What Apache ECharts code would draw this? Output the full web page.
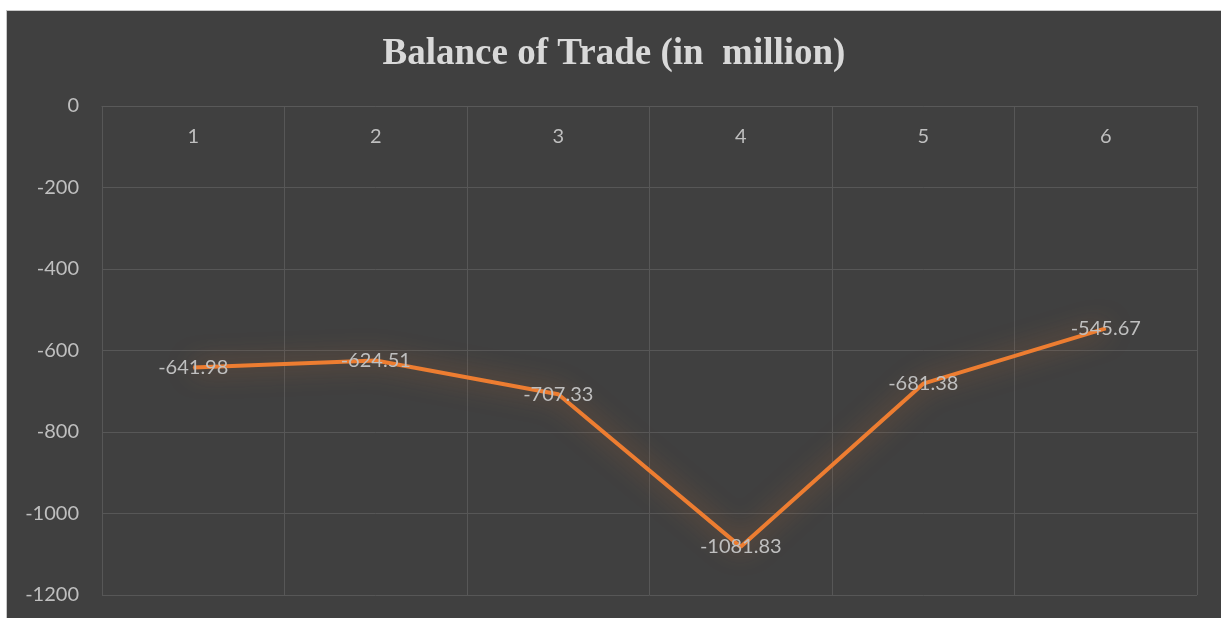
<!DOCTYPE html>
<html>
<head>
<meta charset="utf-8">
<script src="https://cdn.jsdelivr.net/npm/echarts@6/dist/echarts.min.js"></script>
<style>
html,body{margin:0;padding:0;background:#ffffff;width:1221px;height:618px;overflow:hidden;}
#frame{position:absolute;left:6px;top:10px;width:1215px;height:608px;background:#404040;border-top:1px solid #c8c8c8;border-left:1px solid #c8c8c8;box-sizing:border-box;}
#chart{position:absolute;left:0;top:0;width:1214px;height:607px;}
</style>
</head>
<body>
<div id="frame"><div id="chart"></div></div>
<script>
const title = 'Balance of Trade (in  million)';
const categories = ['1', '2', '3', '4', '5', '6'];
const balance = [-641.98, -624.51, -707.33, -1081.83, -681.38, -545.67];
const yMin = -1200, yMax = 0, yStep = 200;

const labelFont = 'Lato, "Open Sans", sans-serif';
const chart = echarts.init(document.getElementById('chart'), null, {renderer: 'canvas'});
chart.setOption({
  backgroundColor: 'transparent',
  animation: false,
  title: {
    text: title,
    left: 'center',
    top: 20,
    textStyle: {
      fontFamily: '"Liberation Serif", "Times New Roman", serif',
      fontWeight: 'bold',
      fontSize: 37,
      color: '#d9d9d9'
    }
  },
  grid: {left: 95, right: 24, top: 95, bottom: 23, containLabel: false},
  xAxis: {
    type: 'category',
    data: categories,
    position: 'top',
    boundaryGap: true,
    axisLine: {show: true, lineStyle: {color: '#595959', width: 1}},
    axisTick: {show: false},
    axisLabel: {
      inside: true,
      margin: 21,
      color: '#bfbfbf',
      fontSize: 20,
      fontFamily: labelFont
    },
    splitLine: {show: true, lineStyle: {color: '#575757', width: 1}}
  },
  yAxis: {
    type: 'value',
    min: yMin,
    max: yMax,
    interval: yStep,
    axisLine: {show: false},
    axisTick: {show: false},
    axisLabel: {
      margin: 23,
      color: '#bfbfbf',
      fontSize: 20,
      fontFamily: labelFont,
      formatter: function (v) { return String(v); }
    },
    splitLine: {show: true, lineStyle: {color: '#575757', width: 1}}
  },
  series: [{
    type: 'line',
    data: balance,
    symbol: 'circle',
    symbolSize: 1,
    showSymbol: true,
    itemStyle: {color: '#ED7D31'},
    lineStyle: {
      color: '#ED7D31',
      width: 4,
      shadowBlur: 26,
      shadowColor: 'rgba(237,125,49,0.6)'
    },
    label: {
      show: true,
      position: 'inside',
      color: '#bfbfbf',
      fontSize: 20,
      fontFamily: labelFont,
      formatter: function (p) { return p.value.toFixed(2); }
    }
  }]
});
</script>
</body>
</html>
